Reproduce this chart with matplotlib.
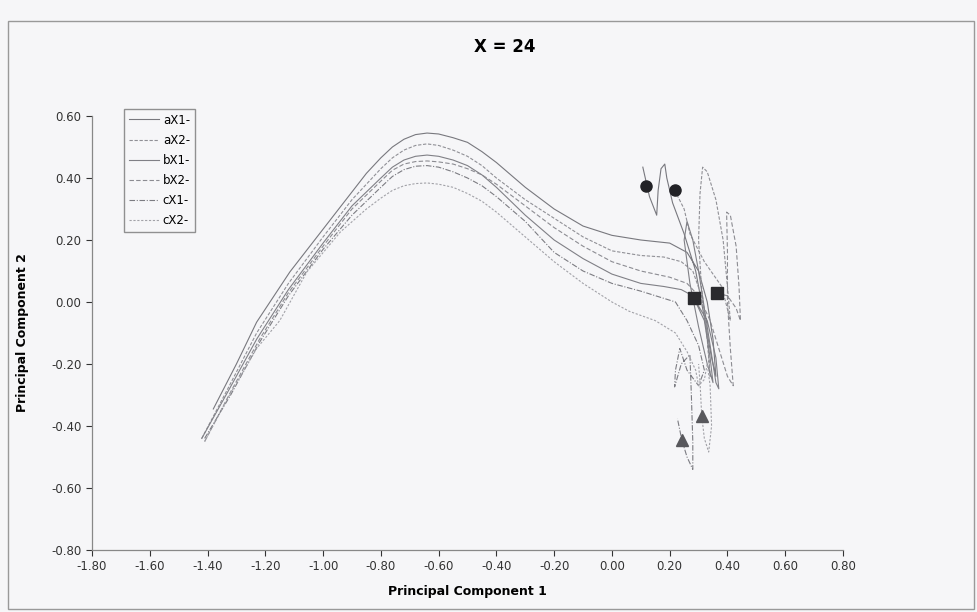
import numpy as np
import matplotlib
matplotlib.use('Agg')
import matplotlib.pyplot as plt
from matplotlib.patches import Rectangle

plt.rcParams['axes.unicode_minus'] = False
plt.rcParams['font.family'] = ['Verdana', 'DejaVu Sans']

# series (Principal Component 1, Principal Component 2)
aX1_x = [-1.38, -1.30, -1.23, -1.115, -1.00, -0.90, -0.85, -0.80, -0.76, -0.72, -0.68, -0.64, -0.60, -0.55, -0.50, -0.45, -0.40,
         -0.30, -0.20, -0.10, 0.00, 0.10, 0.20,
         0.26, 0.30, 0.33, 0.35, 0.36, 0.345, 0.32, 0.29, 0.25, 0.21, 0.19, 0.183, 0.17, 0.16, 0.155, 0.13, 0.107]
aX1_y = [-0.345, -0.20, -0.065, 0.097, 0.235, 0.355, 0.415, 0.465, 0.50, 0.525, 0.54, 0.545, 0.542, 0.53, 0.515, 0.485, 0.45,
         0.37, 0.30, 0.245, 0.215, 0.20, 0.19,
         0.16, 0.10, 0.00, -0.12, -0.24, -0.18, -0.05, 0.10, 0.22, 0.32, 0.40, 0.445, 0.43, 0.36, 0.28, 0.34, 0.435]

aX2_x = [-1.42, -1.33, -1.23, -1.12, -1.00, -0.90, -0.80, -0.76, -0.72, -0.68, -0.64, -0.60, -0.55, -0.50, -0.45, -0.40,
         -0.30, -0.20, -0.10, 0.00, 0.10, 0.18,
         0.24, 0.28, 0.31, 0.33, 0.34, 0.33, 0.31, 0.30, 0.305, 0.314, 0.33, 0.36, 0.385, 0.40, 0.41, 0.38, 0.32, 0.27, 0.25, 0.217]
aX2_y = [-0.44, -0.28, -0.10, 0.06, 0.21, 0.33, 0.43, 0.465, 0.49, 0.505, 0.51, 0.505, 0.49, 0.47, 0.44, 0.40,
         0.33, 0.27, 0.21, 0.165, 0.15, 0.145,
         0.13, 0.10, 0.02, -0.10, -0.24, -0.12, 0.05, 0.20, 0.35, 0.435, 0.42, 0.33, 0.20, 0.05, -0.06, 0.05, 0.13, 0.22, 0.30, 0.361]

bX1_x = [-1.42, -1.33, -1.23, -1.12, -1.00, -0.90, -0.80, -0.76, -0.72, -0.68, -0.64, -0.60, -0.55, -0.50, -0.45, -0.40,
         -0.30, -0.20, -0.10, 0.00, 0.10, 0.18,
         0.24, 0.28, 0.32, 0.34, 0.35, 0.33, 0.30, 0.27, 0.25, 0.26, 0.28, 0.30, 0.32, 0.34, 0.36, 0.37, 0.36, 0.33, 0.283]
bX1_y = [-0.44, -0.29, -0.12, 0.04, 0.19, 0.31, 0.40, 0.435, 0.458, 0.47, 0.474, 0.47, 0.458, 0.44, 0.41, 0.37,
         0.28, 0.20, 0.14, 0.09, 0.06, 0.05,
         0.04, 0.02, -0.06, -0.18, -0.26, -0.20, -0.08, 0.06, 0.20, 0.26, 0.20, 0.10, -0.02, -0.14, -0.26, -0.28, -0.18, -0.06, 0.013]

bX2_x = [-1.41, -1.32, -1.22, -1.12, -1.00, -0.90, -0.80, -0.76, -0.72, -0.68, -0.64, -0.60, -0.55, -0.50, -0.45, -0.40,
         -0.30, -0.20, -0.10, 0.00, 0.10, 0.20,
         0.26, 0.30, 0.34, 0.37, 0.40, 0.42, 0.41, 0.40, 0.40, 0.397, 0.41, 0.43, 0.44, 0.445, 0.43, 0.40, 0.363]
bX2_y = [-0.45, -0.29, -0.12, 0.03, 0.18, 0.30, 0.39, 0.425, 0.445, 0.453, 0.455, 0.452, 0.445, 0.43, 0.41, 0.38,
         0.31, 0.24, 0.18, 0.13, 0.10, 0.08,
         0.06, 0.02, -0.06, -0.15, -0.24, -0.27, -0.15, 0.00, 0.16, 0.29, 0.28, 0.18, 0.05, -0.06, -0.02, 0.02, 0.029]

cX1_x = [-1.41, -1.32, -1.22, -1.12, -1.00, -0.90, -0.80, -0.76, -0.72, -0.68, -0.64, -0.60, -0.55, -0.50, -0.45, -0.40,
         -0.30, -0.20, -0.10, 0.00, 0.10, 0.22,
         0.26, 0.30, 0.32, 0.30, 0.26, 0.235, 0.22, 0.217, 0.24, 0.27, 0.275, 0.28, 0.28, 0.26, 0.242, 0.227]
cX1_y = [-0.44, -0.30, -0.13, 0.02, 0.17, 0.28, 0.37, 0.405, 0.427, 0.438, 0.44, 0.435, 0.42, 0.40, 0.375, 0.34,
         0.26, 0.16, 0.10, 0.06, 0.035, 0.00,
         -0.06, -0.14, -0.22, -0.27, -0.22, -0.15, -0.22, -0.274, -0.20, -0.17, -0.30, -0.45, -0.54, -0.50, -0.445, -0.377]

cX2_x = [-1.41, -1.33, -1.23, -1.15, -1.056, -0.94, -0.85, -0.80, -0.76, -0.72, -0.68, -0.64, -0.60, -0.55, -0.50, -0.45, -0.40,
         -0.30, -0.20, -0.10, 0.00, 0.06,
         0.15, 0.22, 0.26, 0.29, 0.30, 0.32, 0.33, 0.34, 0.345, 0.335, 0.32, 0.311, 0.305, 0.30]
cX2_y = [-0.45, -0.31, -0.15, -0.06, 0.097, 0.226, 0.30, 0.335, 0.36, 0.375, 0.382, 0.384, 0.38, 0.37, 0.35, 0.325, 0.29,
         0.21, 0.13, 0.06, 0.00, -0.03,
         -0.06, -0.10, -0.16, -0.22, -0.27, -0.25, -0.20, -0.27, -0.40, -0.484, -0.44, -0.368, -0.26, -0.20]

labels = ['aX1-', 'aX2-', 'bX1-', 'bX2-', 'cX1-', 'cX2-']

# point markers
circle_x = [0.117, 0.217]
circle_y = [0.374, 0.361]
square_x = [0.283, 0.363]
square_y = [0.013, 0.029]
tri_x = [0.242, 0.311]
tri_y = [-0.445, -0.368]

series = [(aX1_x, aX1_y), (aX2_x, aX2_y), (bX1_x, bX1_y), (bX2_x, bX2_y), (cX1_x, cX1_y), (cX2_x, cX2_y)]
colors = ['#78787e', '#909096', '#808086', '#8c8c92', '#7c7c82', '#a2a2a8']
styles = ['-', (0, (3, 1.5)), '-', (0, (4, 2)), (0, (5, 1.5, 1, 1.5)), (0, (2, 1.5))]

bg = '#f6f6f8'
fig = plt.figure(figsize=(9.77, 6.12), dpi=100, facecolor=bg)
ax = fig.add_axes([92/977, 1 - 550/612, 751/977, 434/612])
ax.set_facecolor(bg)

for (xs, ys), c, ls, lab in zip(series, colors, styles, labels):
    ax.plot(xs, ys, color=c, linestyle=ls, linewidth=0.8, label=lab)

ax.plot(circle_x, circle_y, 'o', color='#222226', markersize=8, linestyle='none')
ax.plot(square_x, square_y, 's', color='#2a2a2e', markersize=8, linestyle='none')
ax.plot(tri_x, tri_y, '^', color='#58585c', markersize=8, linestyle='none')

xt = np.round(np.arange(-1.8, 0.81, 0.2), 2) + 0.0
yt = np.round(np.arange(-0.8, 0.61, 0.2), 2) + 0.0
ax.set_xlim(-1.8, 0.8)
ax.set_ylim(-0.8, 0.6)
ax.set_xticks(xt)
ax.set_yticks(yt)
ax.set_xticklabels(['%.2f' % abs(v) if abs(v) < 1e-9 else '%.2f' % v for v in xt])
ax.set_yticklabels(['%.2f' % abs(v) if abs(v) < 1e-9 else '%.2f' % v for v in yt])
ax.tick_params(labelsize=8.5, colors='#333333', length=4, width=0.8, direction='out')
ax.spines['top'].set_visible(False)
ax.spines['right'].set_visible(False)
for s in ['left', 'bottom']:
    ax.spines[s].set_color('#888888')
    ax.spines[s].set_linewidth(0.9)

ax.set_xlabel('Principal Component 1', fontsize=9, fontweight='bold', labelpad=8)
ax.set_ylabel('Principal Component 2', fontsize=9, fontweight='bold', labelpad=16)
fig.text(505/977, 1 - 47/612, 'X = 24', ha='center', va='center', fontsize=12, fontweight='bold')

fig.legend(loc='upper left', bbox_to_anchor=(118/977, 1 - 103/612), fontsize=8.5,
           frameon=True, fancybox=False, edgecolor='#777777', facecolor=bg,
           handlelength=2.6, handletextpad=0.3, labelspacing=0.6, borderpad=0.4)

fig.patches.append(Rectangle((8/977, 3/612), 966/977, 588/612, transform=fig.transFigure,
                             fill=False, edgecolor='#999999', linewidth=1))

fig.savefig('out.png', dpi=100, facecolor=bg)
